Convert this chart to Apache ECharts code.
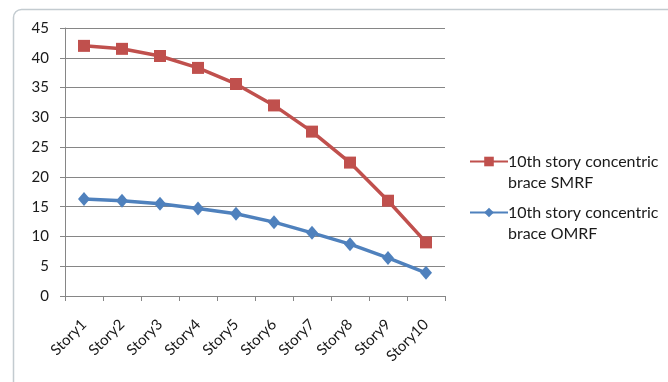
<!DOCTYPE html>
<html>
<head>
<meta charset="utf-8">
<script src="https://cdn.jsdelivr.net/npm/echarts@6/dist/echarts.min.js"></script>
<style>
  html, body { margin: 0; padding: 0; background: #fff; }
  #chart { width: 668px; height: 382px; }
</style>
</head>
<body>
<div id="chart"></div>
<script>
// Story labels along the x axis
const stories = ['Story1', 'Story2', 'Story3', 'Story4', 'Story5', 'Story6', 'Story7', 'Story8', 'Story9', 'Story10'];

// Series names
const smrfName = '10th story concentric brace SMRF';
const omrfName = '10th story concentric brace OMRF';

// Values per story
const smrfValues = [42.0, 41.5, 40.3, 38.3, 35.6, 32.0, 27.6, 22.4, 16.0, 9.0];
const omrfValues = [16.3, 16.0, 15.5, 14.7, 13.8, 12.4, 10.6, 8.7, 6.4, 3.9];

// Y axis range
const yMin = 0, yMax = 45, yStep = 5;

const font = 'Lato, "Open Sans", sans-serif';
const chart = echarts.init(document.getElementById('chart'), null, { renderer: 'canvas' });

// One legend per series. The label is wrapped onto two lines and preceded by a
// blank line, so the icon (centred on the text block) sits level with line one.
function legendFor(name, top) {
  return {
    orient: 'vertical',
    left: 469,
    top: top,
    padding: 0,
    itemWidth: 38,
    itemHeight: 12,
    data: [name],
    formatter: function (n) {
      return ' \n' + n.replace(' brace', '\nbrace');
    },
    textStyle: { fontFamily: font, fontSize: 16, color: '#1a1a1a', lineHeight: 21, padding: [0, 0, 0, -5] }
  };
}

chart.setOption({
  animation: false,
  backgroundColor: '#ffffff',
  graphic: [
    {
      type: 'rect',
      shape: { x: 13.5, y: 9.5, width: 700, height: 400, r: 8 },
      style: { fill: 'none', stroke: '#c3cbd0', lineWidth: 1.5 },
      silent: true,
      z: -1
    }
  ],
  grid: { left: 65, right: 223, top: 28, bottom: 86 },
  legend: [legendFor(smrfName, 130), legendFor(omrfName, 181)],
  xAxis: {
    type: 'category',
    data: stories,
    boundaryGap: true,
    axisLine: { lineStyle: { color: '#868686', width: 1 } },
    axisTick: { show: true, length: 5, lineStyle: { color: '#868686' } },
    axisLabel: { rotate: 45, fontFamily: font, fontSize: 15, color: '#1a1a1a', margin: 26 },
    splitLine: { show: false }
  },
  yAxis: {
    type: 'value',
    min: yMin,
    max: yMax,
    interval: yStep,
    axisLine: { show: true, lineStyle: { color: '#868686', width: 1 } },
    axisTick: { show: true, length: 5, lineStyle: { color: '#868686' } },
    axisLabel: { fontFamily: font, fontSize: 15, color: '#1a1a1a', margin: 16 },
    splitLine: { show: true, lineStyle: { color: '#868686', width: 1 } }
  },
  series: [
    {
      name: smrfName,
      type: 'line',
      data: smrfValues,
      symbol: 'rect',
      symbolSize: 12,
      color: '#c0504d',
      lineStyle: { color: '#c0504d', width: 3.5 },
      itemStyle: { color: '#c0504d' }
    },
    {
      name: omrfName,
      type: 'line',
      data: omrfValues,
      symbol: 'diamond',
      symbolSize: [12, 14],
      color: '#4f81bd',
      lineStyle: { color: '#4f81bd', width: 3.5 },
      itemStyle: { color: '#4f81bd' }
    }
  ]
});
</script>
</body>
</html>
